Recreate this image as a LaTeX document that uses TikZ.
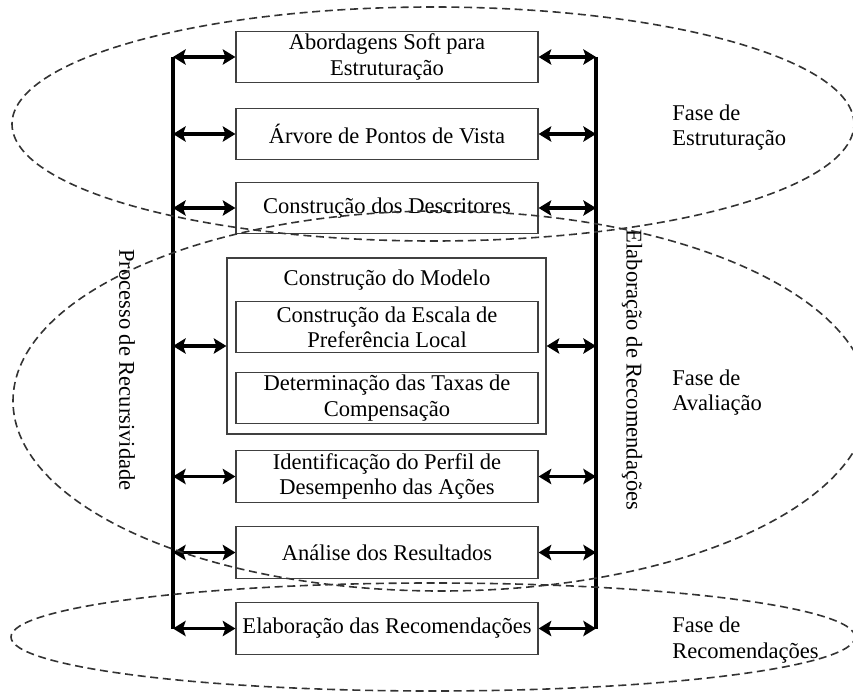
\documentclass[tikz,border=0pt]{standalone}
\usepackage{fontspec}
\setmainfont{Liberation Serif}
\usetikzlibrary{arrows.meta}
\begin{document}
\begin{tikzpicture}[x=0.75pt,y=-0.75pt,
  every node/.style={font=\fontsize{16.9}{19}\selectfont},
  box/.style={draw=black!75, line width=0.9pt, minimum width=226.5pt, minimum height=38.5pt, inner sep=0pt, align=center},
  modelbox/.style={draw=black!75, line width=0.9pt, minimum width=239.25pt, minimum height=132pt, inner sep=0pt},
  rail/.style={line width=3.5pt},
  arr/.style={line width=2.5pt, {Stealth[length=9.5pt,width=11.5pt,inset=2pt]}-{Stealth[length=9.5pt,width=11.5pt,inset=2pt]}},
  phase/.style={dash pattern=on 6pt off 3.5pt, line width=1.2pt, draw=black!80},
  phasetext/.style={align=left, anchor=west, inner sep=0pt},
  vtext/.style={rotate=-90}
]
\useasboundingbox (0,0) rectangle (853,695);
% boxes
\node[box] (b1) at (387,57) {Abordagens Soft para\\Estruturação};
\node[box] (b2) at (387,134) {Árvore de Pontos de Vista};
\node[box] (b3) at (387,208) {Construção dos Descritores};
\node[modelbox] (m) at (386.5,346) {};
\node (mt) at (387,280) {Construção do Modelo};
\node[box] (m1) at (387,327) {Construção da Escala de\\Preferência Local};
\node[box] (m2) at (387,398) {Determinação das Taxas de\\Compensação};
\node[box] (b5) at (387,476.5) {Identificação do Perfil de\\Desempenho das Ações};
\node[box] (b6) at (387,552.5) {Análise dos Resultados};
\node[box] (b7) at (387,628.5) {Elaboração das Recomendações};
% rails
\coordinate (Lt) at (173,57); \coordinate (Lb) at (173,629);
\coordinate (Rt) at (596,57); \coordinate (Rb) at (596,629);
\draw[rail] (Lt) -- (Lb);
\draw[rail] (Rt) -- (Rb);
\foreach \n in {b1,b2,b3,m,b5,b6,b7} {
  \draw[arr] (\n.west -| Lt) -- (\n.west);
  \draw[arr] (\n.east) -- (\n.east -| Rt);
}
% vertical texts
\node[vtext] (pr) at (127,370) {Processo de Recursividade};
\node[vtext] (er) at (632,370) {Elaboração de Recomendações};
% phase labels
\node[phasetext] (f1) at (672,127.5) {Fase de\\Estruturação};
\node[phasetext] (f2) at (672,392.5) {Fase de\\Avaliação};
\node[phasetext] (f3) at (672,640) {Fase de\\Recomendações};
% ellipses
\begin{scope}
\clip (0,0) rectangle (853,695);
\draw[phase] (433,124) ellipse [x radius=315.75pt, y radius=87.75pt];
\draw[phase] (441,401) ellipse [x radius=321pt, y radius=142.5pt];
\draw[phase] (433,637) ellipse [x radius=316.5pt, y radius=40.5pt];
\end{scope}
\end{tikzpicture}
\end{document}
